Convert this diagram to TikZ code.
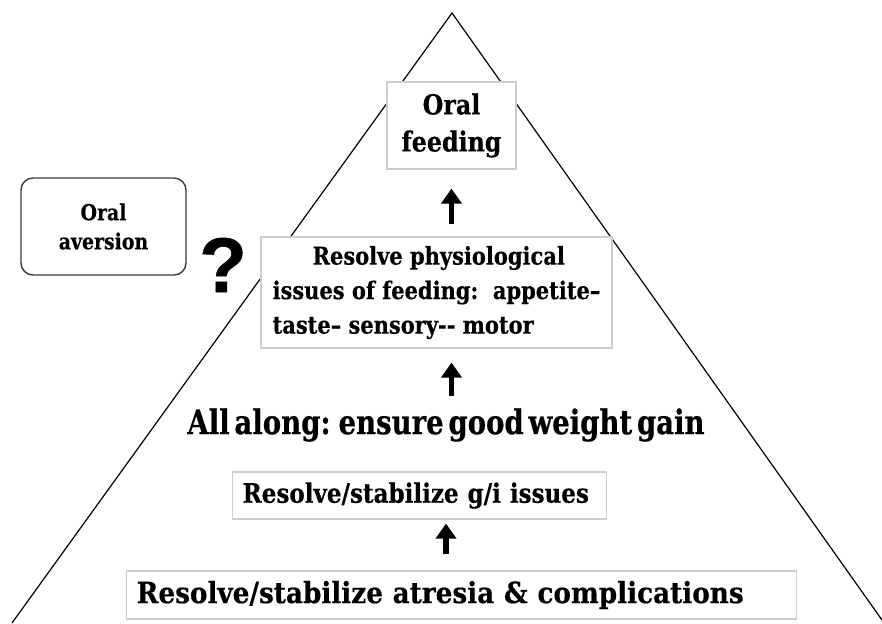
\documentclass[tikz,border=0pt]{standalone}
\usepackage{fontspec}
\usetikzlibrary{arrows.meta,positioning,calc}
\setmainfont{DejaVu Serif}[FakeStretch=0.86,FakeBold=0.4]
\newfontfamily\tightfont{DejaVu Serif}[FakeStretch=0.81,WordSpace=0.5,FakeBold=0.5]
\newfontfamily\basefont{DejaVu Serif}[FakeStretch=0.90,FakeBold=0.4]
\newfontfamily\qfont{Liberation Sans}[FakeBold=0.6]
\definecolor{boxline}{RGB}{205,205,205}
\definecolor{avline}{RGB}{60,60,60}
\tikzset{
  pyr/.style={black, line width=0.6pt},
  lvl/.style={draw=boxline, line width=0.6pt, fill=white, inner sep=0pt},
  avbox/.style={draw=avline, line width=0.7pt, fill=white, rounded corners=6pt,
                align=center, minimum width=82.5pt, minimum height=48.5pt,
                font=\fontsize{11}{14.5}\selectfont\bfseries},
  uparr/.style={-{Triangle[length=7.5pt,width=10pt]}, line width=2.8pt},
}
\begin{document}
\begin{tikzpicture}[x=0.5pt, y=-0.5pt]
  \useasboundingbox (0,0) rectangle (882,623);
  % pyramid outline
  \draw[pyr] (12,623) -- (452,13) -- (882,620);
  % levels
  \node[lvl, minimum width=64.5pt, minimum height=43.5pt, align=center,
        font=\fontsize{13.8}{18.5}\selectfont\bfseries] (oral) at (451.5,125.5) {Oral\\feeding};
  \node[avbox] (aversion) at (103.5,226.5) {Oral\\aversion};
  \node[font=\fontsize{39}{39}\qfont\bfseries, inner sep=0pt] (qmark) at (223,265) {?};
  \node[lvl, minimum width=175.5pt, minimum height=55.5pt, align=left,
        font=\fontsize{12.2}{17.25}\selectfont\bfseries] (physio) at (436.5,292.5)
        {\hspace*{20pt}Resolve physiological\\issues of feeding:\ \ appetite--\\taste-- sensory-{}- motor};
  \node[font=\fontsize{17}{20}\tightfont\bfseries, inner sep=0pt] (gain) at (446,425)
        {All along: ensure good weight gain};
  \node[lvl, anchor=west, text width=177pt, inner xsep=5pt, minimum height=23.5pt, align=left,
        font=\fontsize{13.4}{17}\selectfont\bfseries] (gi) at (232,495.5) {Resolve/stabilize g/i issues};
  \node[lvl, anchor=west, text width=325pt, inner xsep=5pt, minimum height=24pt, align=left,
        font=\fontsize{14.6}{17}\basefont\bfseries] (base) at (126,595)
        {Resolve/stabilize atresia \& complications};
  % arrows
  \draw[uparr, shorten <=6pt, shorten >=9.5pt] (physio.north -| oral.south) -- (oral.south);
  \draw[uparr, shorten <=6pt, shorten >=7pt] (gain.north -| oral.south) -- (physio.south -| oral.south);
  \draw[uparr, shorten <=8pt, shorten >=2pt] (base.north -| gain.center) -- (gi.south -| gain.center);
\end{tikzpicture}
\end{document}
